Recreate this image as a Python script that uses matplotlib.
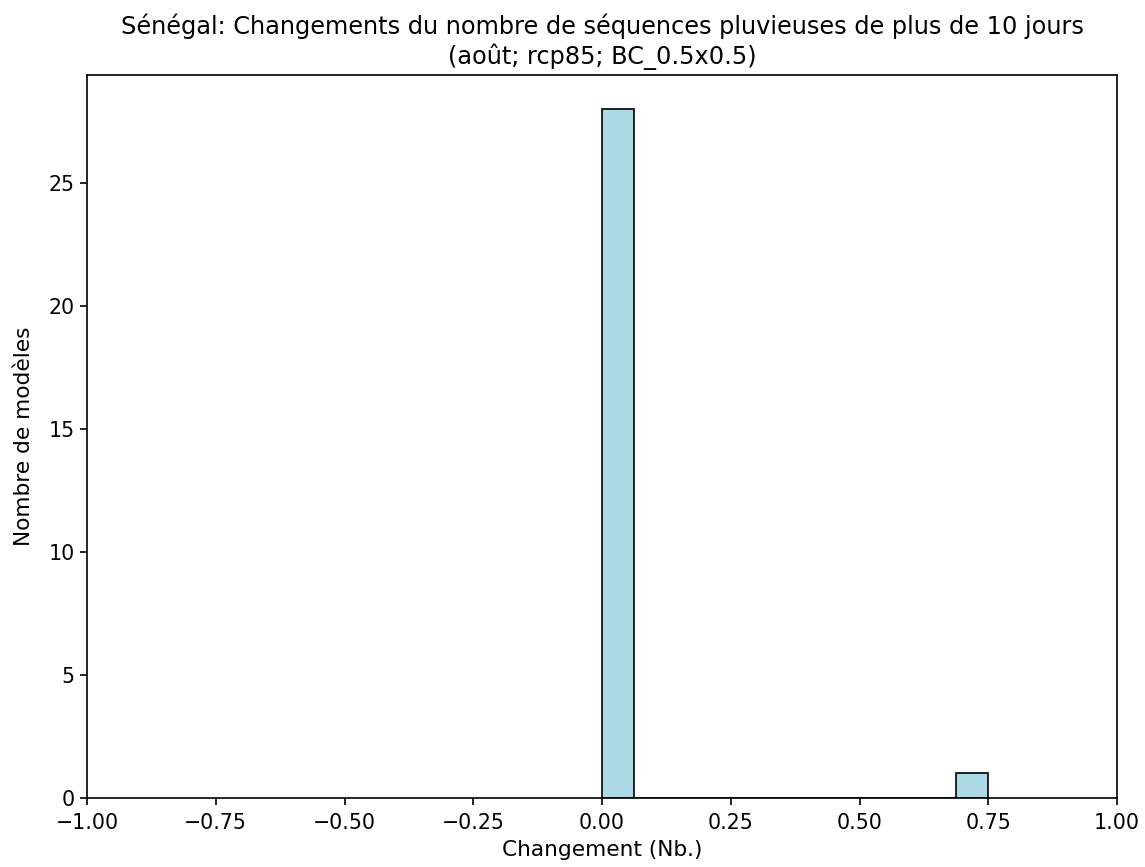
import matplotlib
matplotlib.use("Agg")
import matplotlib.pyplot as plt
import numpy as np

# Data: model changes (28 models with 0 change, 1 model with 0.75)
changes = [0.0] * 28 + [0.75]
n_bins = 12

title = "Sénégal: Changements du nombre de séquences pluvieuses de plus de 10 jours\n(août; rcp85; BC_0.5x0.5)"
xlabel = "Changement (Nb.)"
ylabel = "Nombre de modèles"

fig = plt.figure(figsize=(11.45, 8.67), dpi=100)
ax = fig.add_axes([87/1145, 1 - 798/867, (1117-87)/1145, (798-75)/867])
ax.hist(changes, bins=n_bins, color="lightblue", edgecolor="black", linewidth=1.2)
ax.set_xlim(-1, 1)
ax.set_xticks(np.arange(-1, 1.01, 0.25))
ax.set_title(title, fontsize=17.3, pad=8)
ax.set_xlabel(xlabel, fontsize=15.6, labelpad=5)
ax.set_ylabel(ylabel, fontsize=15.6, labelpad=10)
ax.tick_params(labelsize=14.8, width=1.2, length=5)
ax.tick_params(axis="x", pad=6)
ax.tick_params(axis="y", pad=4)
for s in ax.spines.values():
    s.set_linewidth(1.2)
fig.savefig("out.png", dpi=100)
